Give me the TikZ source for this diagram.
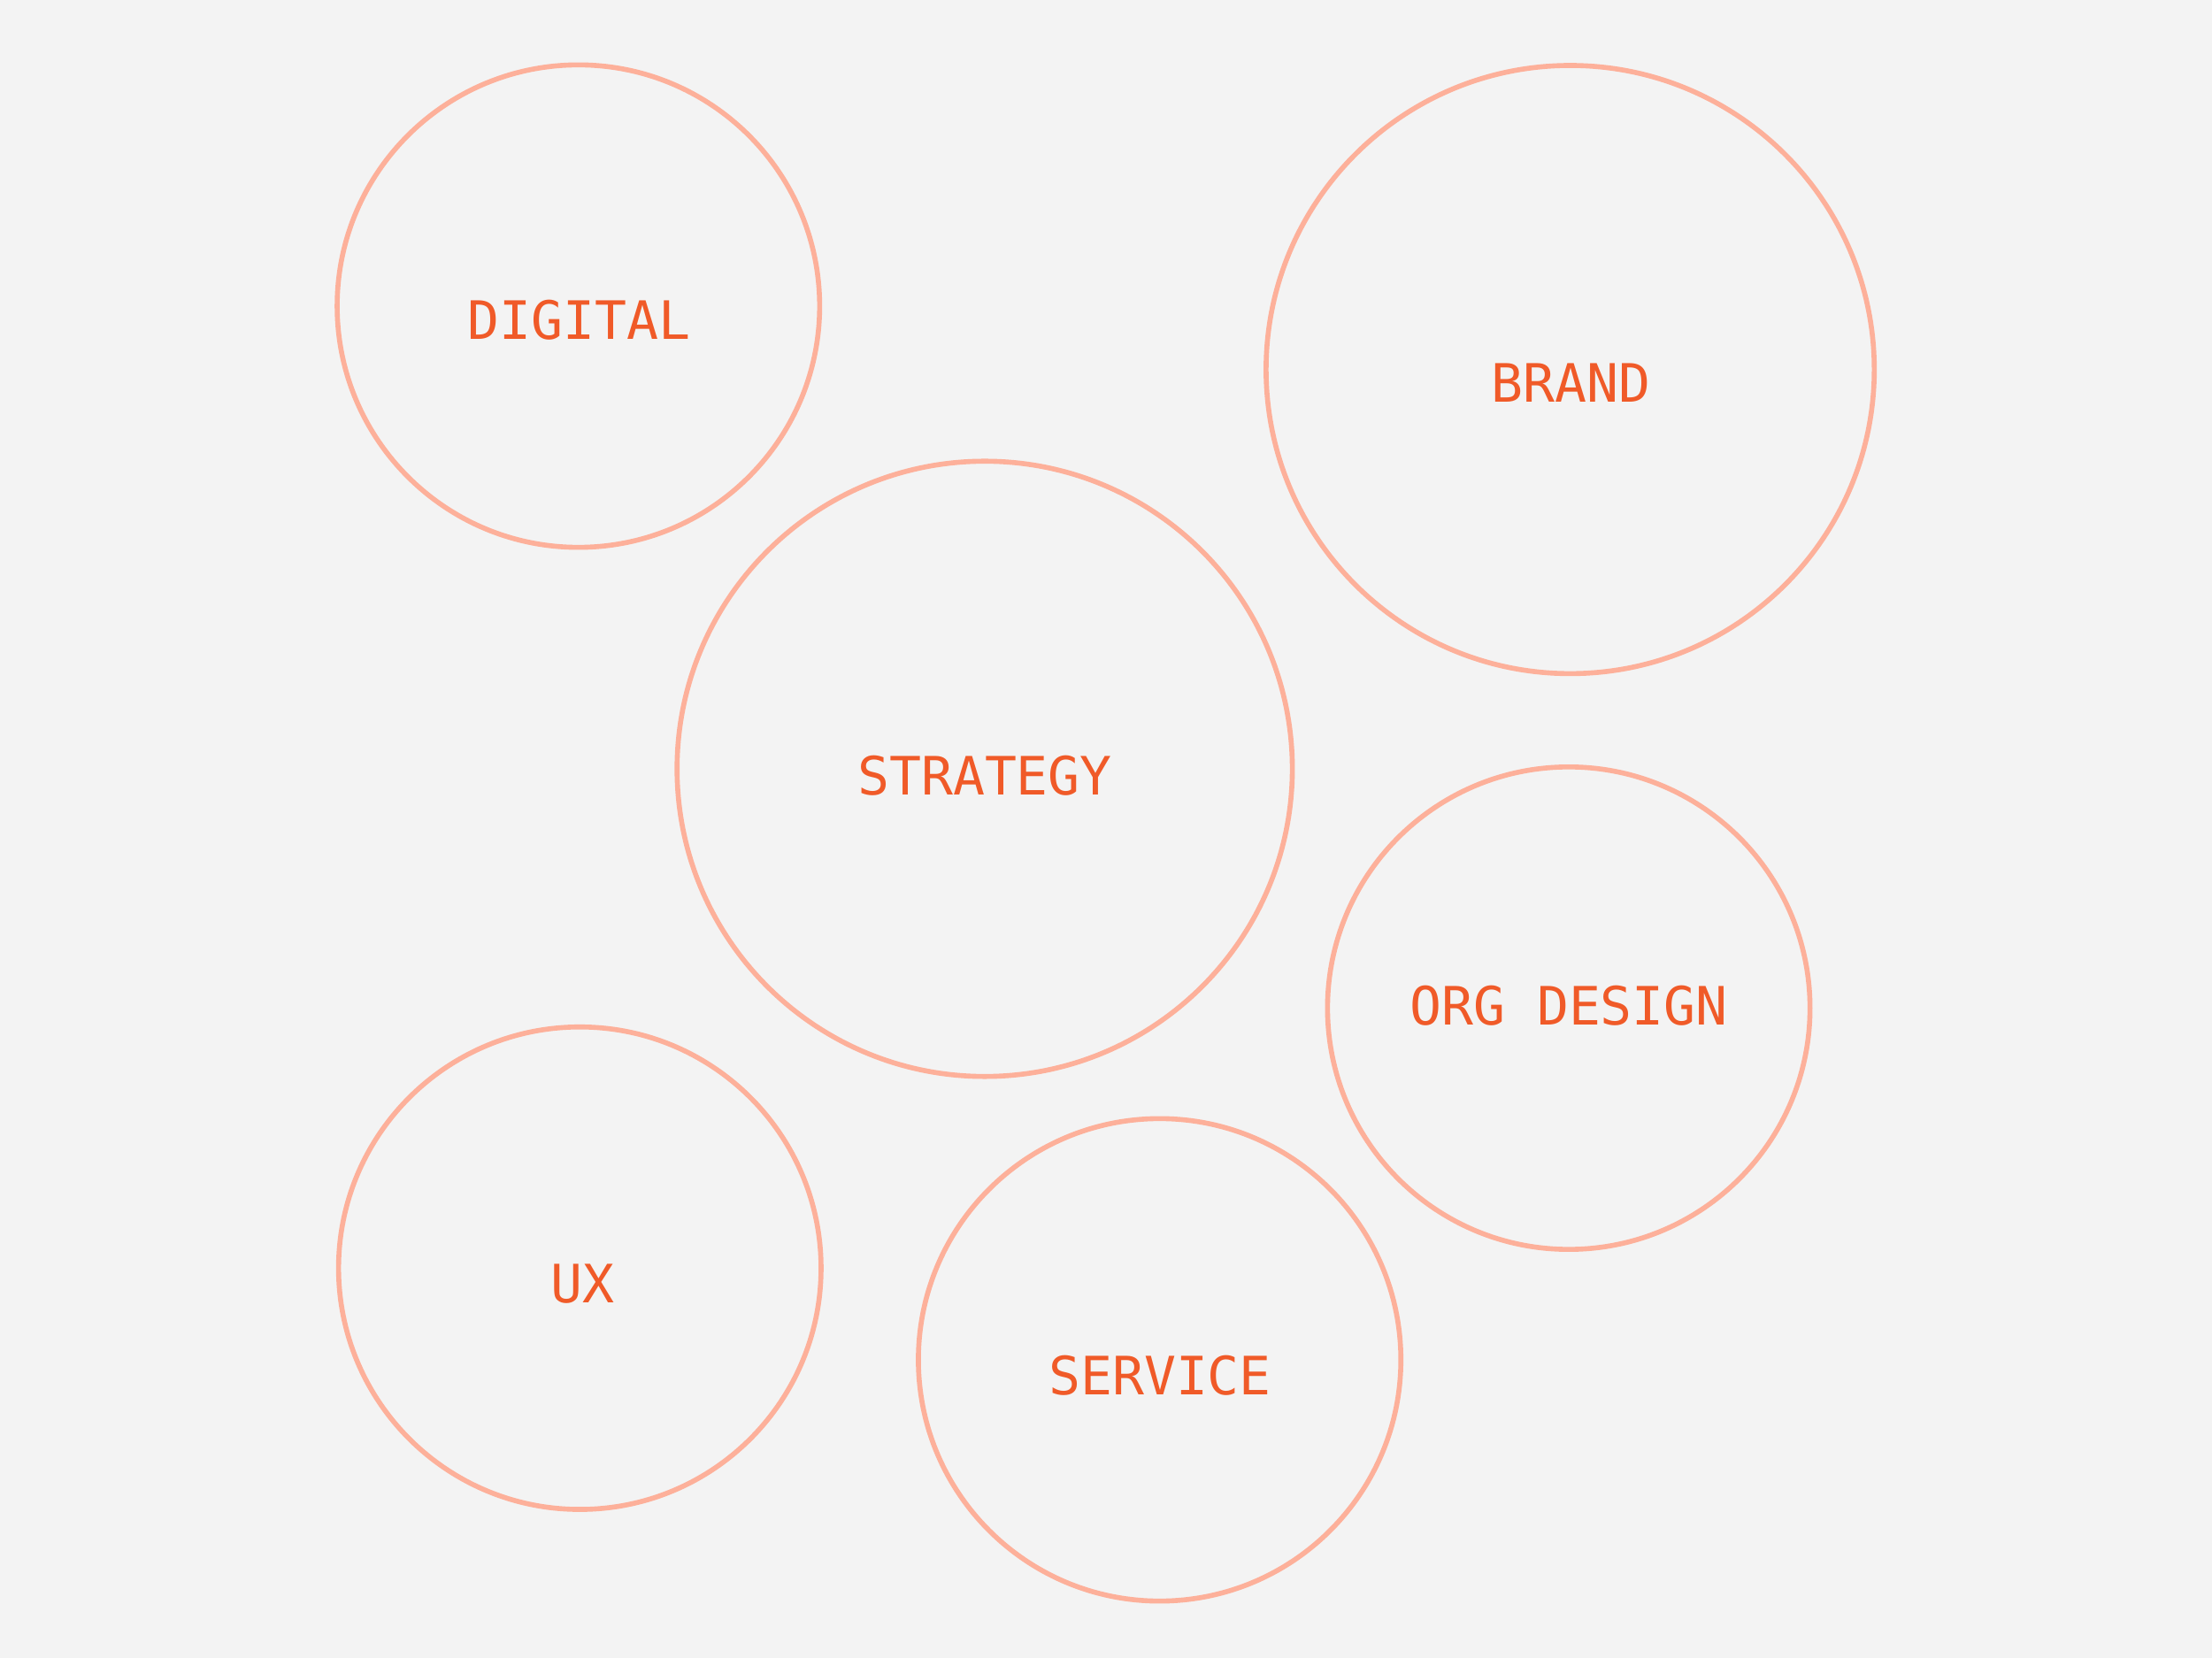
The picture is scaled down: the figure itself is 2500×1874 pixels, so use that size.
\documentclass[tikz,border=0pt]{standalone}
\usepackage{fontspec}
\setmonofont{DejaVu Sans Mono}
\definecolor{bgc}{HTML}{F3F3F3}
\definecolor{ringc}{HTML}{FDB09A}
\definecolor{labc}{HTML}{F05A28}
\tikzset{
  bubble/.style={circle, draw=ringc, line width=1.6pt, inner sep=0pt, outer sep=0pt},
  lab/.style={anchor=base, text=labc, inner sep=0pt, font=\ttfamily\fontsize{17pt}{17pt}\selectfont}
}
\begin{document}
\begin{tikzpicture}[x=0.01cm, y=-0.01cm]
\fill[bgc] (0,0) rectangle (2500,1874);
\useasboundingbox (0,0) rectangle (2500,1874);
\node[bubble, minimum size=5.45cm] (digital) at (653.7,346) {};
\node[bubble, minimum size=6.87cm] (brand) at (1774.6,417.7) {};
\node[bubble, minimum size=6.95cm] (strategy) at (1112.9,869) {};
\node[bubble, minimum size=5.45cm] (org) at (1773,1139.5) {};
\node[bubble, minimum size=5.45cm] (ux) at (655.3,1433.4) {};
\node[bubble, minimum size=5.45cm] (service) at (1310.6,1537) {};
\node[lab] (tdigital) at (654.5,384) {DIGITAL};
\node[lab] (tbrand) at (1775,455) {BRAND};
\node[lab] (tstrategy) at (1113,899) {STRATEGY};
\node[lab] (torg) at (1773,1159) {ORG DESIGN};
\node[lab] (tux) at (658,1472) {UX};
\node[lab] (tservice) at (1311,1576) {SERVICE};
\end{tikzpicture}
\end{document}
